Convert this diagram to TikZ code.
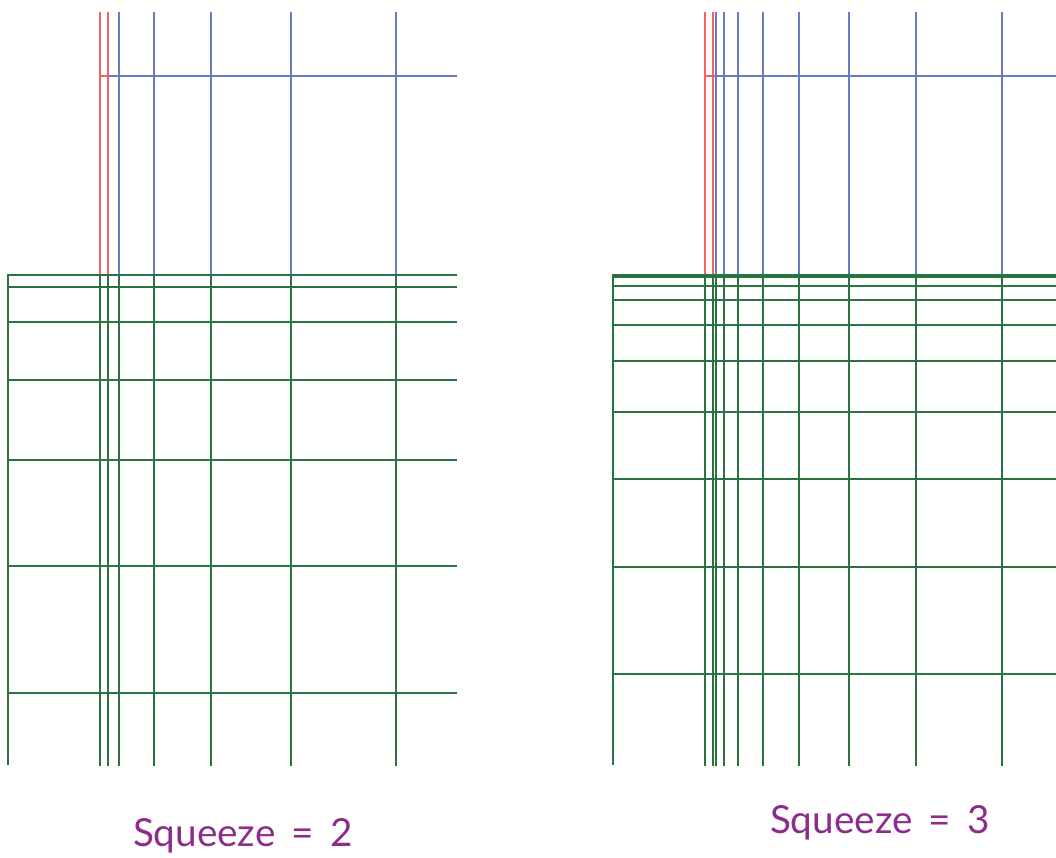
\documentclass[tikz,border=0pt]{standalone}
\usepackage{fontspec}
\usepackage{xcolor}
\newfontfamily\labelfont{Lato}
\definecolor{gridred}{RGB}{250,95,95}
\definecolor{gridblue}{RGB}{105,122,194}
\definecolor{gridgreen}{RGB}{40,115,65}
\definecolor{labelpurple}{RGB}{140,45,140}
\tikzset{
    redline/.style={gridred,line width=1pt},
    blueline/.style={gridblue,line width=1pt},
    greenline/.style={gridgreen,line width=1pt},
    squeezelabel/.style={labelpurple,anchor=base,font=\labelfont\fontsize{29}{34}\selectfont}
}

\begin{document}
\begin{tikzpicture}[x=0.75pt,y=-0.75pt]
        \useasboundingbox (0,0) rectangle (1056,857);
        % squeeze = 2
        \foreach \xx in {119,154,211,291,396} \draw[blueline] (\xx,12) -- (\xx,275);
        \foreach \xx in {100,108} \draw[redline] (\xx,12) -- (\xx,275);
        \draw[redline] (100,76) -- (108,76);
        \draw[blueline] (108,76) -- (457,76);
        \foreach \yy in {275,287,322,380,460,566,693} \draw[greenline] (8,\yy) -- (457,\yy);
        \draw[greenline] (8,274) -- (8,765);
        \foreach \xx in {100,108,119,154,211,291,396} \draw[greenline] (\xx,275) -- (\xx,766);
        \node[squeezelabel] (sq2) at (243,846) {Squeeze \,=\, 2};
        % squeeze = 3
        \foreach \xx in {716,724,738,763,799,849,916,1002} \draw[blueline] (\xx,12) -- (\xx,275);
        \foreach \xx in {705,713} \draw[redline] (\xx,12) -- (\xx,275);
        \draw[redline] (705,76) -- (713,76);
        \draw[blueline] (713,76) -- (1056,76);
        \foreach \yy in {275,277,286,300,325,361,412,479,567,674} \draw[greenline] (613,\yy) -- (1056,\yy);
        \draw[greenline] (613,274) -- (613,765);
        \foreach \xx in {705,713,716,724,738,763,799,849,916,1002} \draw[greenline] (\xx,275) -- (\xx,766);
        \node[squeezelabel] (sq3) at (880,833) {Squeeze \,=\, 3};
\end{tikzpicture}
\end{document}
